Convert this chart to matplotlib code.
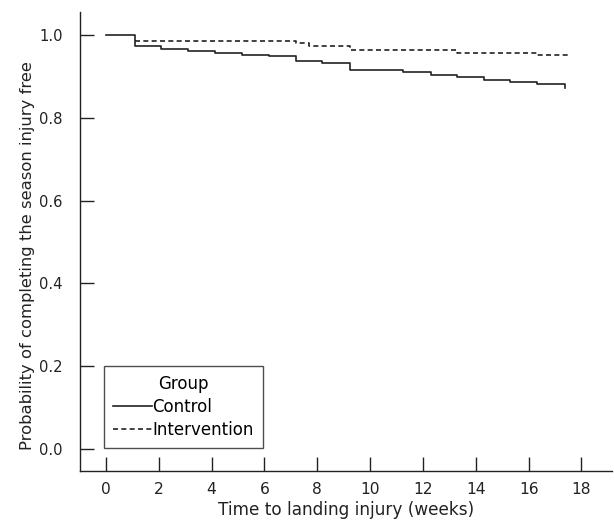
import matplotlib
matplotlib.use('Agg')
import matplotlib.pyplot as plt
import numpy as np

# Kaplan-Meier step values (time in weeks, survival prob)
control_t = [0, 1.1, 2.07, 3.11, 4.12, 5.16, 6.17, 7.18, 8.18, 9.22,
             11.25, 12.29, 13.3, 14.3, 15.3, 16.3, 17.37]
control_s = [1.0, 0.973, 0.967, 0.961, 0.956, 0.952, 0.949, 0.938, 0.932, 0.915,
             0.911, 0.904, 0.898, 0.891, 0.887, 0.883, 0.873]

interv_t = [1.1, 7.18, 7.7, 9.22, 13.3, 16.3, 17.48]
interv_s = [0.985, 0.980, 0.975, 0.964, 0.957, 0.952, 0.952]

x_ticks = list(range(0, 20, 2))
y_ticks = [0.0, 0.2, 0.4, 0.6, 0.8, 1.0]


def main():
    plt.rcParams['font.family'] = 'DejaVu Sans'
    fig = plt.figure(figsize=(6.14, 5.25), dpi=100)
    ax = fig.add_axes([0.1295, 0.103, 0.867, 0.874])

    ax.step(control_t, control_s, where='post', color='#222222', lw=1.2,
            label='Control')
    ax.step(interv_t, interv_s, where='post', color='#222222', lw=1.2,
            ls=(0, (3, 2)), label='Intervention')

    ax.set_xlim(-1.0, 19.15)
    ax.set_ylim(-0.054, 1.056)
    ax.set_xticks(x_ticks)
    ax.set_yticks(y_ticks)
    ax.set_yticklabels(['%.1f' % v for v in y_ticks])

    ax.spines['top'].set_visible(False)
    ax.spines['right'].set_visible(False)
    for s in ('left', 'bottom'):
        ax.spines[s].set_linewidth(1.0)
        ax.spines[s].set_color('#222222')

    ax.tick_params(axis='both', direction='in', length=10, width=1.0,
                   colors='#222222', labelsize=11.2)
    ax.tick_params(axis='y', pad=12, labelsize=10.6)
    ax.tick_params(axis='x', pad=8)

    ax.set_xlabel('Time to landing injury (weeks)', fontsize=12.2, color='#222222',
                  labelpad=3)
    ax.set_ylabel('Probability of completing the season injury free', fontsize=11.8,
                  color='#222222')
    ax.yaxis.set_label_coords(-0.084, 0.47)

    leg = ax.legend(title='Group', loc='lower left', bbox_to_anchor=(0.046, 0.05),
                    fontsize=12, title_fontsize=12, frameon=True, fancybox=False,
                    handlelength=2.3, handletextpad=0.05, borderpad=0.55,
                    labelspacing=0.3, borderaxespad=0)
    leg.get_frame().set_edgecolor('#222222')
    leg.get_frame().set_linewidth(1.0)

    fig.savefig('out.png', dpi=100)


if __name__ == '__main__':
    main()
